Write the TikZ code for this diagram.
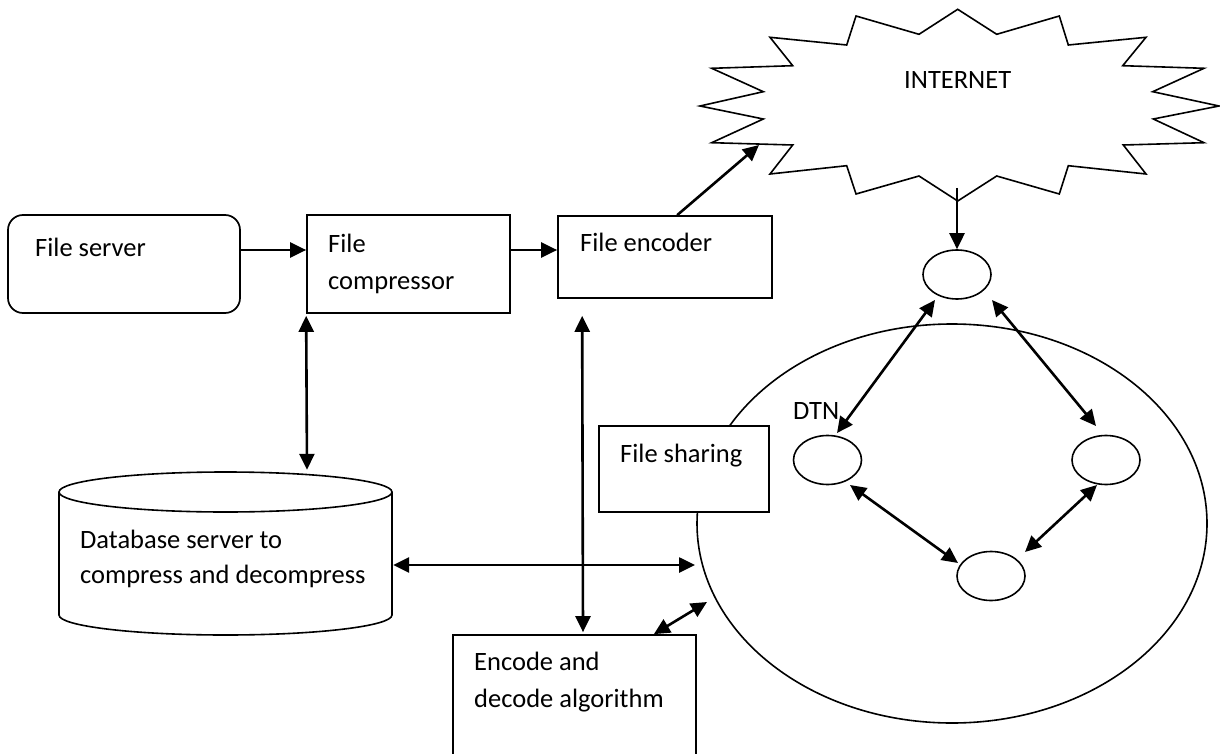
\documentclass[tikz,border=0pt]{standalone}
\usepackage{fontspec}
\setmainfont{Carlito}
\usetikzlibrary{arrows.meta,shapes.geometric,calc}
\begin{document}
\begin{tikzpicture}[x=1pt,y=-1pt,
 box/.style={draw, line width=1.7pt, inner sep=0pt},
 lbl/.style={inner sep=0pt, anchor=base west, font=\fontsize{26.5}{36}\selectfont},
 oval/.style={draw, ellipse, line width=1.6pt, minimum width=68pt, minimum height=49pt, inner sep=0pt},
 arr/.style={line width=2.6pt, -{Triangle[length=16pt,width=15pt]}},
 dbl/.style={line width=2.6pt, {Triangle[length=16pt,width=15pt]}-{Triangle[length=16pt,width=15pt]}}]
\useasboundingbox (0,0) rectangle (1220,754);
\fill[white] (0,0) rectangle (1220,754);

% big DTN region
\node[draw, ellipse, line width=1.6pt, minimum width=510pt, minimum height=399pt, inner sep=0pt] (dtn) at (952,523.5) {};

% internet starburst
\draw[line width=1.6pt, fill=white] (957.7,9.3) -- (996.7,34.3) -- (1059.3,16) -- (1068.3,45) -- (1146,37.3) -- (1122.7,65.7) -- (1204,68.3) -- (1152.7,91.7) -- (1219,106) -- (1153.3,119) -- (1204,142.7) -- (1123.3,145) -- (1146,174) -- (1068.3,165.7) -- (1059.3,194) -- (996.7,176) -- (957.7,201) -- (919,176) -- (856,194) -- (846.7,165.7) -- (770,174) -- (792.7,145) -- (711.7,142.7) -- (763.3,119) -- (700,106) -- (763.3,91.7) -- (711.7,68.3) -- (792.7,65.7) -- (770,37.3) -- (846.7,45) -- (856,16) -- (919,34.3) -- cycle;
\node[lbl] (inettxt) at (904,89) {INTERNET};
\coordinate (inetb) at (957,188);
\coordinate (inetl) at (759,145);

% boxes
\node[box, rounded corners=15pt, minimum width=232pt, minimum height=98pt] (fs) at (124,264) {};
\node[lbl] at (35,256) {File server};
\node[box, minimum width=203pt, minimum height=98pt] (comp) at (408.5,264) {};
\node[lbl] at (328,252) {File};
\node[lbl] at (328,289) {compressor};
\node[box, minimum width=214pt, minimum height=82pt] (enc) at (665,257) {};
\node[lbl] at (580,251) {File encoder};
\node[box, fill=white, minimum width=170pt, minimum height=86pt] (share) at (684,469) {};
\node[lbl] at (620,462) {File sharing};
\node[box, minimum width=243pt, minimum height=130pt] (alg) at (574.5,700) {};
\node[lbl] at (474,670) {Encode and};
\node[lbl] at (474,707) {decode algorithm};

% database cylinder
\node[inner sep=0pt, minimum width=333pt, minimum height=163pt] (db) at (225.5,553.5) {};
\draw[line width=1.6pt] (59,492) -- (59,615) arc[start angle=180, end angle=0, x radius=166.5, y radius=20] -- (392,492);
\draw[line width=1.6pt] (225.5,492) ellipse [x radius=166.5, y radius=20];
\node[lbl] at (80,548) {Database server to};
\node[lbl] at (80,583) {compress and decompress};

% DTN nodes
\node[oval] (n0) at (957,274.5) {};
\node[oval] (n1) at (827.5,460) {};
\node[oval] (n2) at (1106,460) {};
\node[oval] (n3) at (991,576) {};
\node[lbl] at (793,419) {DTN};

% connectors
\draw[arr] ($(fs.east)+(0,-14)$) -- ($(comp.west)+(0,-14)$);
\draw[arr] ($(comp.east)+(0,-14)$) -- ($(enc.west)+(0,-7)$);
\draw[arr] ($(enc.north west)+(120,0)$) -- (inetl);
\draw[arr] (inetb) -- (n0.north);
\draw[dbl] ($(comp.south west)+(0,2)$) -- ($(db.north)+(81.5,-2)$);
\draw[dbl] ($(enc.south west)+(25,17)$) -- ($(alg.north)+(8.5,-2)$);
\draw[dbl] ($(db.east)+(1,11.5)$) -- ($(dtn.center)+(-257,41.5)$);
\draw[dbl] ($(alg.north east)+(-43,0)$) -- ($(dtn.center)+(-245,78.5)$);
\draw[dbl] ($(n0)+(-22,25.5)$) -- ($(n1)+(9.5,-27)$);
\draw[dbl] ($(n0)+(35,25.5)$) -- ($(n2)+(-10,-34)$);
\draw[dbl] ($(n1)+(22.5,25)$) -- ($(n3)+(-33,-13)$);
\draw[dbl] ($(n2)+(-9,25)$) -- ($(n3)+(34,-24)$);
\end{tikzpicture}
\end{document}
